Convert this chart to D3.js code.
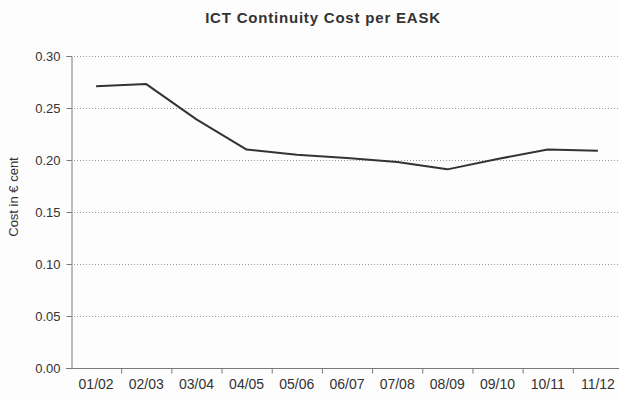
<!DOCTYPE html>
<html>
<head>
<meta charset="utf-8">
<script src="https://cdn.jsdelivr.net/npm/d3@7"></script>
<style>
  html, body { margin: 0; padding: 0; background: #fdfdfd; }
  svg { display: block; font-family: "Liberation Sans", Arial, sans-serif; }
</style>
</head>
<body>
<svg id="chart" width="619" height="400"></svg>
<script>
const categories = ["01/02","02/03","03/04","04/05","05/06","06/07","07/08","08/09","09/10","10/11","11/12"];
const values = [0.271, 0.273, 0.239, 0.210, 0.205, 0.202, 0.198, 0.191, 0.201, 0.210, 0.209];
const yTicks = [0, 0.05, 0.10, 0.15, 0.20, 0.25, 0.30];
const title = "ICT Continuity Cost per EASK";
const yLabel = "Cost in € cent";

const svg = d3.select("#chart");
const margin = { left: 71, top: 56, bottom: 32, right: -4 };
const W = 619, H = 400;

const x = d3.scaleBand().domain(categories).range([margin.left, W - margin.right]);
const y = d3.scaleLinear().domain([0, 0.30]).range([H - margin.bottom, margin.top]);

svg.append("rect").attr("width", W).attr("height", H).attr("fill", "#fdfdfd");

// gridlines
svg.append("g").selectAll("line").data(yTicks.filter(d => d > 0)).join("line")
  .attr("x1", margin.left).attr("x2", W)
  .attr("y1", d => y(d) + 0.5).attr("y2", d => y(d) + 0.5)
  .attr("stroke", "#9a9a9a").attr("stroke-width", 1).attr("stroke-dasharray", "1,2");

// y axis
const yAxis = svg.append("g").attr("transform", `translate(${margin.left + 0.5},0)`)
  .call(d3.axisLeft(y).tickValues(yTicks).tickFormat(d3.format(".2f")).tickSize(5).tickPadding(6));
yAxis.select(".domain").attr("stroke", "#7a7a7a");
yAxis.selectAll(".tick line").attr("stroke", "#7a7a7a");
yAxis.selectAll("text").attr("font-size", 13).attr("fill", "#333");

// x axis
const xBoundaries = categories.map(c => x(c));
const xAxisG = svg.append("g").attr("transform", `translate(0,${y(0) + 0.5})`);
xAxisG.append("line").attr("x1", margin.left - 5).attr("x2", W).attr("stroke", "#7a7a7a");
xAxisG.selectAll(".xt").data(xBoundaries.slice(1)).join("line").attr("class", "xt")
  .attr("x1", d => d + 0.5).attr("x2", d => d + 0.5).attr("y1", 0).attr("y2", 5)
  .attr("stroke", "#7a7a7a");
xAxisG.selectAll(".xl").data(categories).join("text").attr("class", "xl")
  .attr("x", d => x(d) + x.bandwidth() / 2).attr("y", 20)
  .attr("text-anchor", "middle").attr("font-size", 14).attr("fill", "#333")
  .text(d => d);

// line
const line = d3.line().x((d, i) => x(categories[i]) + x.bandwidth() / 2).y(d => y(d));
svg.append("path").datum(values).attr("d", line)
  .attr("fill", "none").attr("stroke", "#333").attr("stroke-width", 2).attr("stroke-linejoin", "round");

// title
svg.append("text").attr("x", 323).attr("y", 23).attr("text-anchor", "middle")
  .attr("font-size", 15).attr("font-weight", "bold").attr("letter-spacing", 0.8)
  .attr("fill", "#333").text(title);

// y label
svg.append("text").attr("transform", `translate(18,197) rotate(-90)`)
  .attr("text-anchor", "middle").attr("font-size", 13).attr("fill", "#333").text(yLabel);
</script>
</body>
</html>
